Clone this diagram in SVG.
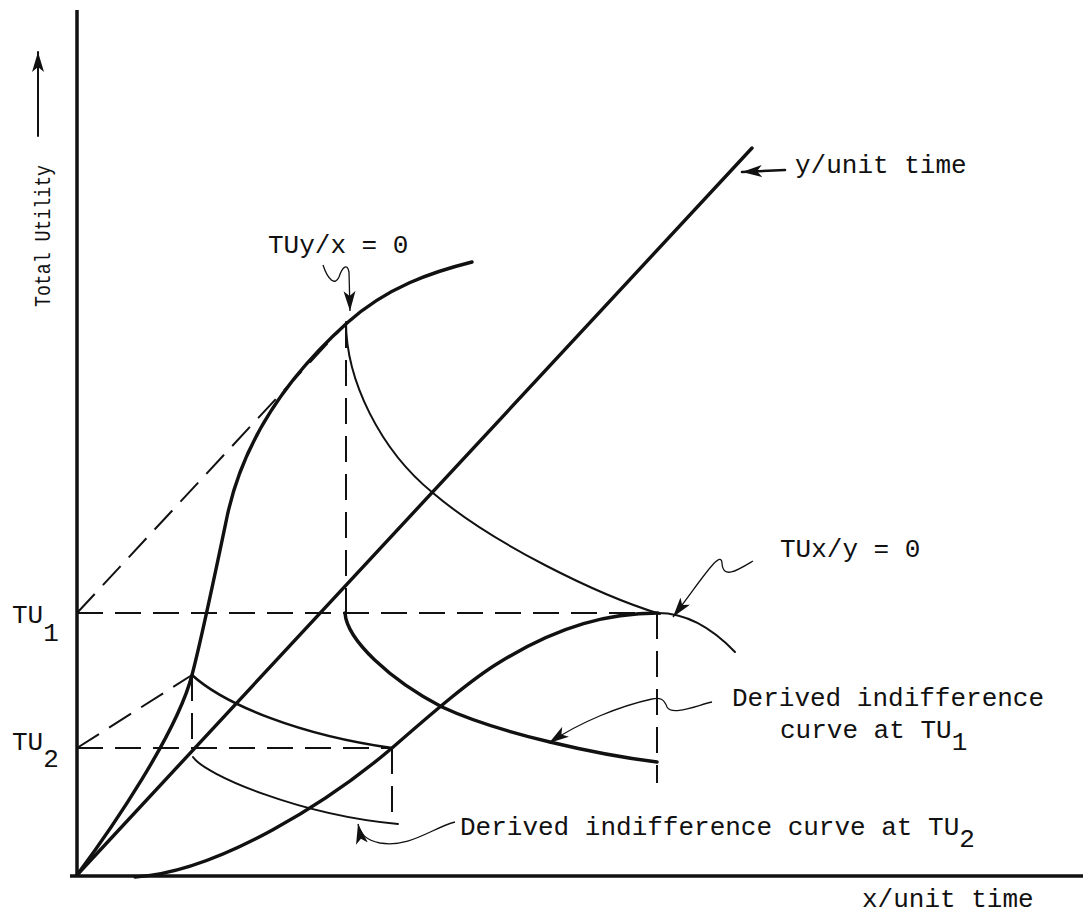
<svg xmlns="http://www.w3.org/2000/svg" width="1083" height="915" viewBox="0 0 1083 915">
<style>
.ax{stroke:#111;stroke-width:3.5;fill:none}
.thick{stroke:#111;stroke-width:3.4;fill:none;stroke-linecap:round}
.mid{stroke:#111;stroke-width:2.6;fill:none;stroke-linecap:round}
.thin{stroke:#111;stroke-width:2;fill:none;stroke-linecap:round}
.dash{stroke:#111;stroke-width:2;fill:none;stroke-dasharray:26 12}
.sq{stroke:#111;stroke-width:1.3;fill:none}
text{font-family:"Liberation Mono","Courier New",monospace;font-size:26px;fill:#111}
</style>
<defs>
<marker id="ah" markerUnits="userSpaceOnUse" markerWidth="22" markerHeight="12" refX="20" refY="6" orient="auto">
<path d="M0,0 L20,6 L0,12 L5,6 z" fill="#111"/>
</marker>
</defs>
<rect width="1083" height="915" fill="#fff"/>
<g id="axes">
<path class="ax" d="M77,10 V877"/>
<path class="ax" d="M70,876 H1083"/>
<path class="thin" d="M38,136 V52" marker-end="url(#ah)"/>
<text transform="translate(50,236) rotate(-90)" text-anchor="middle" textLength="142" lengthAdjust="spacingAndGlyphs" style="font-size:22px">Total Utility</text>
<text x="862" y="907">x/unit time</text>
<text x="12" y="623">TU<tspan dy="18">1</tspan></text>
<text x="12" y="750">TU<tspan dy="17">2</tspan></text>
</g>
<g id="curves">
<path id="y-line" class="thick" d="M77,875 L752,148"/>
<path id="tu-y-curve" class="thick" d="M77,875 C112,828 177,733 192,675 C202,637 218,560 227,517 C245,431 297,368 347,323 C387,287 432,272 472,262"/>
<path id="tu-x-curve" class="thick" d="M135,877 C220,872 332,799 392,748 C430,715 470,680 500,662 C560,625 610,613 658,613"/>
<path id="tu-x-tail" class="thin" d="M658,613 C685,613 712,628 735,652"/>
<path id="upper-curve" class="thin" d="M346,322 C346,380 380,450 433,493 C493,544 598,595 660,614"/>
<path id="ic-tu1" class="thick" d="M345,613 C347,640 390,680 442,707 C500,734 600,755 657,762"/>
<path id="ic-tu2-upper" class="mid" d="M192,675 C225,705 300,735 392,748"/>
<path id="ic-tu2-lower" class="thin" d="M193,757 C205,775 300,815 398,824"/>
</g>
<g id="dashed">
<path class="dash" d="M77,613 H657"/>
<path class="dash" d="M77,748 H392"/>
<path class="dash" d="M77,613 L340,330"/>
<path class="dash" d="M77,748 L192,675"/>
<path class="dash" d="M346,322 V613"/>
<path class="dash" d="M192,675 V748"/>
<path class="dash" d="M657,613 V783"/>
<path class="dash" d="M392,748 V822"/>
</g>
<g id="labels">
<g id="lbl-ylinetime">
<path class="mid" d="M785,170 L742,172" marker-end="url(#ah)"/>
<text x="795" y="173">y/unit time</text>
</g>
<g id="lbl-tuyx">
<text x="268" y="253">TUy/x = 0</text>
<path class="sq" d="M323,265 C328,280 335,286 339,277 C342,268 347,262 349,272 L350,311" marker-end="url(#ah)"/>
</g>
<g id="lbl-tuxy">
<text x="780" y="557">TUx/y = 0</text>
<path class="sq" d="M753,561 C738,570 723,580 722,563 C721,548 700,582 673,617" marker-end="url(#ah)"/>
</g>
<g id="lbl-ic1">
<text x="732" y="706">Derived indifference</text>
<text x="780" y="738">curve at TU<tspan dy="12">1</tspan></text>
<path class="sq" d="M712,702 C695,706 672,716 667,707 C664,699 660,697 652,699 C620,706 580,722 549,743" marker-end="url(#ah)"/>
</g>
<g id="lbl-ic2">
<text x="460" y="835">Derived indifference curve at TU<tspan dy="12">2</tspan></text>
<path class="sq" d="M455,822 C432,828 410,848 380,843 C366,840 360,834 358,824" marker-end="url(#ah)"/>
</g>
</g>
</svg>
